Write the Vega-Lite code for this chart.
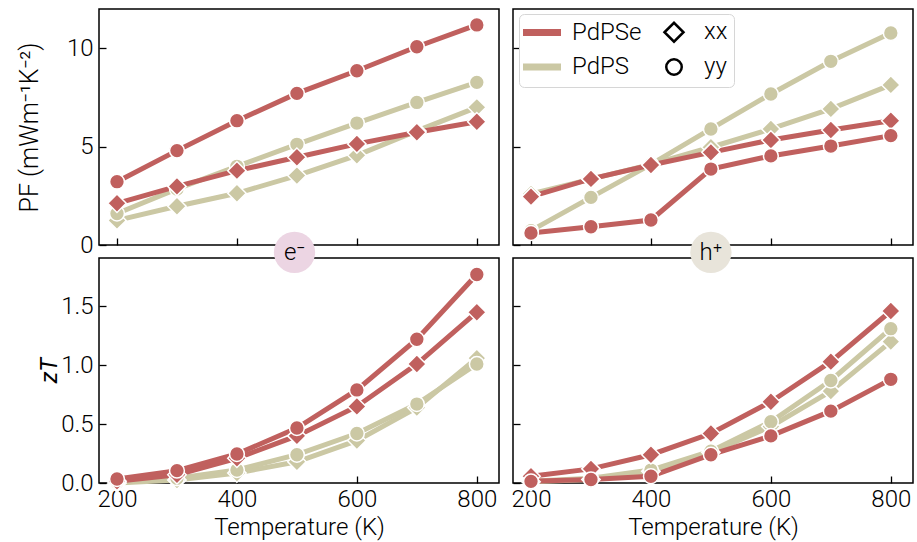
{
  "$schema": "https://vega.github.io/schema/vega-lite/v6.json",
  "padding": {"left": 16, "top": 8, "right": 3, "bottom": 2},
  "config": {
    "font": "Roboto",
    "view": {"stroke": "black", "strokeWidth": 1.5},
    "axis": {"domain": false, "grid": false, "tickColor": "black", "tickSize": -7, "tickWidth": 1.3, "labelFontSize": 24, "labelFontWeight": 300, "labelColor": "black", "titleFontSize": 24, "titleColor": "black", "titleFontWeight": 300, "labelFlush": false, "labelOverlap": false, "labelBound": false},
    "axisX": {"labelPadding": 11},
    "axisY": {"labelPadding": 13}
  },
  "datasets": {
    "series": [
      {"panel":"PF_e","material":"PdPS","dir":"xx","T":200,"value":1.25},{"panel":"PF_e","material":"PdPS","dir":"xx","T":300,"value":1.97},{"panel":"PF_e","material":"PdPS","dir":"xx","T":400,"value":2.63},{"panel":"PF_e","material":"PdPS","dir":"xx","T":500,"value":3.53},{"panel":"PF_e","material":"PdPS","dir":"xx","T":600,"value":4.56},{"panel":"PF_e","material":"PdPS","dir":"xx","T":700,"value":5.8},{"panel":"PF_e","material":"PdPS","dir":"xx","T":800,"value":7.0},
      {"panel":"PF_e","material":"PdPS","dir":"yy","T":200,"value":1.6},{"panel":"PF_e","material":"PdPS","dir":"yy","T":300,"value":2.85},{"panel":"PF_e","material":"PdPS","dir":"yy","T":400,"value":4.0},{"panel":"PF_e","material":"PdPS","dir":"yy","T":500,"value":5.12},{"panel":"PF_e","material":"PdPS","dir":"yy","T":600,"value":6.2},{"panel":"PF_e","material":"PdPS","dir":"yy","T":700,"value":7.25},{"panel":"PF_e","material":"PdPS","dir":"yy","T":800,"value":8.27},
      {"panel":"PF_e","material":"PdPSe","dir":"xx","T":200,"value":2.12},{"panel":"PF_e","material":"PdPSe","dir":"xx","T":300,"value":2.98},{"panel":"PF_e","material":"PdPSe","dir":"xx","T":400,"value":3.78},{"panel":"PF_e","material":"PdPSe","dir":"xx","T":500,"value":4.46},{"panel":"PF_e","material":"PdPSe","dir":"xx","T":600,"value":5.14},{"panel":"PF_e","material":"PdPSe","dir":"xx","T":700,"value":5.73},{"panel":"PF_e","material":"PdPSe","dir":"xx","T":800,"value":6.27},
      {"panel":"PF_e","material":"PdPSe","dir":"yy","T":200,"value":3.22},{"panel":"PF_e","material":"PdPSe","dir":"yy","T":300,"value":4.8},{"panel":"PF_e","material":"PdPSe","dir":"yy","T":400,"value":6.32},{"panel":"PF_e","material":"PdPSe","dir":"yy","T":500,"value":7.71},{"panel":"PF_e","material":"PdPSe","dir":"yy","T":600,"value":8.86},{"panel":"PF_e","material":"PdPSe","dir":"yy","T":700,"value":10.08},{"panel":"PF_e","material":"PdPSe","dir":"yy","T":800,"value":11.19},
      {"panel":"PF_h","material":"PdPS","dir":"xx","T":200,"value":2.6},{"panel":"PF_h","material":"PdPS","dir":"xx","T":300,"value":3.35},{"panel":"PF_h","material":"PdPS","dir":"xx","T":400,"value":4.1},{"panel":"PF_h","material":"PdPS","dir":"xx","T":500,"value":4.97},{"panel":"PF_h","material":"PdPS","dir":"xx","T":600,"value":5.9},{"panel":"PF_h","material":"PdPS","dir":"xx","T":700,"value":6.92},{"panel":"PF_h","material":"PdPS","dir":"xx","T":800,"value":8.14},
      {"panel":"PF_h","material":"PdPS","dir":"yy","T":200,"value":0.73},{"panel":"PF_h","material":"PdPS","dir":"yy","T":300,"value":2.42},{"panel":"PF_h","material":"PdPS","dir":"yy","T":400,"value":4.1},{"panel":"PF_h","material":"PdPS","dir":"yy","T":500,"value":5.9},{"panel":"PF_h","material":"PdPS","dir":"yy","T":600,"value":7.68},{"panel":"PF_h","material":"PdPS","dir":"yy","T":700,"value":9.34},{"panel":"PF_h","material":"PdPS","dir":"yy","T":800,"value":10.78},
      {"panel":"PF_h","material":"PdPSe","dir":"xx","T":200,"value":2.46},{"panel":"PF_h","material":"PdPSe","dir":"xx","T":300,"value":3.36},{"panel":"PF_h","material":"PdPSe","dir":"xx","T":400,"value":4.07},{"panel":"PF_h","material":"PdPSe","dir":"xx","T":500,"value":4.71},{"panel":"PF_h","material":"PdPSe","dir":"xx","T":600,"value":5.34},{"panel":"PF_h","material":"PdPSe","dir":"xx","T":700,"value":5.85},{"panel":"PF_h","material":"PdPSe","dir":"xx","T":800,"value":6.32},
      {"panel":"PF_h","material":"PdPSe","dir":"yy","T":200,"value":0.61},{"panel":"PF_h","material":"PdPSe","dir":"yy","T":300,"value":0.93},{"panel":"PF_h","material":"PdPSe","dir":"yy","T":400,"value":1.27},{"panel":"PF_h","material":"PdPSe","dir":"yy","T":500,"value":3.86},{"panel":"PF_h","material":"PdPSe","dir":"yy","T":600,"value":4.53},{"panel":"PF_h","material":"PdPSe","dir":"yy","T":700,"value":5.03},{"panel":"PF_h","material":"PdPSe","dir":"yy","T":800,"value":5.56},
      {"panel":"zT_e","material":"PdPS","dir":"xx","T":200,"value":0.0},{"panel":"zT_e","material":"PdPS","dir":"xx","T":300,"value":0.025},{"panel":"zT_e","material":"PdPS","dir":"xx","T":400,"value":0.085},{"panel":"zT_e","material":"PdPS","dir":"xx","T":500,"value":0.18},{"panel":"zT_e","material":"PdPS","dir":"xx","T":600,"value":0.36},{"panel":"zT_e","material":"PdPS","dir":"xx","T":700,"value":0.64},{"panel":"zT_e","material":"PdPS","dir":"xx","T":800,"value":1.06},
      {"panel":"zT_e","material":"PdPS","dir":"yy","T":200,"value":0.005},{"panel":"zT_e","material":"PdPS","dir":"yy","T":300,"value":0.04},{"panel":"zT_e","material":"PdPS","dir":"yy","T":400,"value":0.11},{"panel":"zT_e","material":"PdPS","dir":"yy","T":500,"value":0.24},{"panel":"zT_e","material":"PdPS","dir":"yy","T":600,"value":0.42},{"panel":"zT_e","material":"PdPS","dir":"yy","T":700,"value":0.67},{"panel":"zT_e","material":"PdPS","dir":"yy","T":800,"value":1.01},
      {"panel":"zT_e","material":"PdPSe","dir":"xx","T":200,"value":0.014},{"panel":"zT_e","material":"PdPSe","dir":"xx","T":300,"value":0.07},{"panel":"zT_e","material":"PdPSe","dir":"xx","T":400,"value":0.21},{"panel":"zT_e","material":"PdPSe","dir":"xx","T":500,"value":0.4},{"panel":"zT_e","material":"PdPSe","dir":"xx","T":600,"value":0.65},{"panel":"zT_e","material":"PdPSe","dir":"xx","T":700,"value":1.01},{"panel":"zT_e","material":"PdPSe","dir":"xx","T":800,"value":1.45},
      {"panel":"zT_e","material":"PdPSe","dir":"yy","T":200,"value":0.034},{"panel":"zT_e","material":"PdPSe","dir":"yy","T":300,"value":0.105},{"panel":"zT_e","material":"PdPSe","dir":"yy","T":400,"value":0.246},{"panel":"zT_e","material":"PdPSe","dir":"yy","T":500,"value":0.467},{"panel":"zT_e","material":"PdPSe","dir":"yy","T":600,"value":0.79},{"panel":"zT_e","material":"PdPSe","dir":"yy","T":700,"value":1.22},{"panel":"zT_e","material":"PdPSe","dir":"yy","T":800,"value":1.77},
      {"panel":"zT_h","material":"PdPS","dir":"xx","T":200,"value":0.01},{"panel":"zT_h","material":"PdPS","dir":"xx","T":300,"value":0.03},{"panel":"zT_h","material":"PdPS","dir":"xx","T":400,"value":0.1},{"panel":"zT_h","material":"PdPS","dir":"xx","T":500,"value":0.26},{"panel":"zT_h","material":"PdPS","dir":"xx","T":600,"value":0.48},{"panel":"zT_h","material":"PdPS","dir":"xx","T":700,"value":0.78},{"panel":"zT_h","material":"PdPS","dir":"xx","T":800,"value":1.2},
      {"panel":"zT_h","material":"PdPS","dir":"yy","T":200,"value":0.014},{"panel":"zT_h","material":"PdPS","dir":"yy","T":300,"value":0.04},{"panel":"zT_h","material":"PdPS","dir":"yy","T":400,"value":0.11},{"panel":"zT_h","material":"PdPS","dir":"yy","T":500,"value":0.27},{"panel":"zT_h","material":"PdPS","dir":"yy","T":600,"value":0.52},{"panel":"zT_h","material":"PdPS","dir":"yy","T":700,"value":0.87},{"panel":"zT_h","material":"PdPS","dir":"yy","T":800,"value":1.31},
      {"panel":"zT_h","material":"PdPSe","dir":"xx","T":200,"value":0.057},{"panel":"zT_h","material":"PdPSe","dir":"xx","T":300,"value":0.12},{"panel":"zT_h","material":"PdPSe","dir":"xx","T":400,"value":0.24},{"panel":"zT_h","material":"PdPSe","dir":"xx","T":500,"value":0.42},{"panel":"zT_h","material":"PdPSe","dir":"xx","T":600,"value":0.69},{"panel":"zT_h","material":"PdPSe","dir":"xx","T":700,"value":1.03},{"panel":"zT_h","material":"PdPSe","dir":"xx","T":800,"value":1.46},
      {"panel":"zT_h","material":"PdPSe","dir":"yy","T":200,"value":0.014},{"panel":"zT_h","material":"PdPSe","dir":"yy","T":300,"value":0.03},{"panel":"zT_h","material":"PdPSe","dir":"yy","T":400,"value":0.057},{"panel":"zT_h","material":"PdPSe","dir":"yy","T":500,"value":0.24},{"panel":"zT_h","material":"PdPSe","dir":"yy","T":600,"value":0.4},{"panel":"zT_h","material":"PdPSe","dir":"yy","T":700,"value":0.61},{"panel":"zT_h","material":"PdPSe","dir":"yy","T":800,"value":0.88}
    ],
    "labels": [
      {"panel":"zT_e","T":496,"value":1.958,"text":"e⁻","bg":"#ecd5e3"},
      {"panel":"zT_h","T":500,"value":1.958,"text":"h⁺","bg":"#e8e4da"}
    ]
  },
  "resolve": {"scale": {"color": "independent", "shape": "independent", "size": "independent"}},
  "bounds": "flush",
  "columns": 2,
  "spacing": {"row": 13, "column": 14},
  "concat": [
    {
      "width": 400, "height": 236,
      "data": {"name": "series"},
      "transform": [{"filter": "datum.panel == 'PF_e'"}],
      "encoding": {
        "x": {"field": "T", "type": "quantitative", "scale": {"domain": [170, 837], "nice": false, "zero": false}, "axis": {"values": [200, 400, 600, 800], "labels": false, "title": null}},
        "y": {"field": "value", "type": "quantitative", "scale": {"domain": [0, 12], "nice": false}, "axis": {"values": [0, 5, 10], "format": "d", "title": "PF (mWm⁻¹K⁻²)", "titleFontSize": 25, "titleX": -57, "titleY": 118}},
        "color": {"field": "material", "type": "nominal", "scale": {"domain": ["PdPSe", "PdPS"], "range": ["#c0605e", "#cbc8a4"]}, "legend": null}
      },
      "layer": [
        {"mark": {"type": "line", "strokeWidth": 5}, "encoding": {"detail": {"field": "dir"}}},
        {"mark": {"type": "point", "filled": true, "opacity": 1, "stroke": "white", "strokeWidth": 1.5},
         "encoding": {"shape": {"field": "dir", "type": "nominal", "scale": {"domain": ["xx", "yy"], "range": ["diamond", "circle"]}, "legend": null},
                      "size": {"field": "dir", "type": "nominal", "scale": {"domain": ["xx", "yy"], "range": [340, 220]}, "legend": null}}}
      ]
    },
    {
      "width": 400, "height": 236,
      "data": {"name": "series"},
      "transform": [{"filter": "datum.panel == 'PF_h'"}],
      "encoding": {
        "x": {"field": "T", "type": "quantitative", "scale": {"domain": [170, 837], "nice": false, "zero": false}, "axis": {"values": [200, 400, 600, 800], "labels": false, "title": null}},
        "y": {"field": "value", "type": "quantitative", "scale": {"domain": [0, 12], "nice": false}, "axis": {"values": [0, 5, 10], "labels": false, "title": null}},
        "color": {"field": "material", "type": "nominal", "scale": {"domain": ["PdPSe", "xx", "PdPS", "yy"], "range": ["#c0605e", "#000000", "#cbc8a4", "#000000"]},
          "legend": {
            "orient": "none", "legendX": 6, "legendY": 5, "title": null, "columns": 2, "direction": "horizontal",
            "values": ["PdPSe", "xx", "PdPS", "yy"],
            "strokeColor": "#d6d6d6", "fillColor": "white", "cornerRadius": 5, "padding": 6,
            "labelFontSize": 24, "labelFontWeight": 300, "labelColor": "black", "labelFont": "Roboto",
            "symbolSize": 361, "symbolOffset": 5, "labelOffset": 18, "rowPadding": 6, "columnPadding": 15,
            "symbolFillColor": "transparent",
            "encode": {"symbols": {"update": {
              "shape": {"signal": "datum.value == 'xx' ? 'diamond' : datum.value == 'yy' ? 'circle' : 'M-2,0H2'"},
              "stroke": {"signal": "datum.value == 'PdPSe' ? '#c0605e' : datum.value == 'PdPS' ? '#cbc8a4' : 'black'"},
              "strokeWidth": {"signal": "datum.value == 'xx' || datum.value == 'yy' ? 2.5 : 7"},
              "size": {"signal": "datum.value == 'yy' ? 240 : 361"},
              "fill": {"signal": "'transparent'"},
              "fillOpacity": {"value": 0},
              "strokeOpacity": {"value": 1},
              "opacity": {"value": 1}
            }}}
          }}
      },
      "layer": [
        {"mark": {"type": "line", "strokeWidth": 5}, "encoding": {"detail": {"field": "dir"}}},
        {"mark": {"type": "point", "filled": true, "opacity": 1, "stroke": "white", "strokeWidth": 1.5},
         "encoding": {"shape": {"field": "dir", "type": "nominal", "scale": {"domain": ["xx", "yy"], "range": ["diamond", "circle"]}, "legend": null},
                      "size": {"field": "dir", "type": "nominal", "scale": {"domain": ["xx", "yy"], "range": [340, 220]}, "legend": null}}}
      ]
    },
    {
      "width": 400, "height": 225,
      "layer": [
        {
          "data": {"name": "series"},
          "transform": [{"filter": "datum.panel == 'zT_e'"}],
          "encoding": {
            "x": {"field": "T", "type": "quantitative", "scale": {"domain": [170, 837], "nice": false, "zero": false}, "axis": {"values": [200, 400, 600, 800], "title": "Temperature (K)", "titlePadding": 4}},
            "y": {"field": "value", "type": "quantitative", "scale": {"domain": [0, 1.91], "nice": false}, "axis": {"values": [0, 0.5, 1, 1.5], "format": ".1f", "title": "zT", "titleFontStyle": "italic", "titleFontWeight": 400, "titleX": -38, "titleY": 112}},
            "color": {"field": "material", "type": "nominal", "scale": {"domain": ["PdPSe", "PdPS"], "range": ["#c0605e", "#cbc8a4"]}, "legend": null}
          },
          "layer": [
            {"mark": {"type": "line", "strokeWidth": 5}, "encoding": {"detail": {"field": "dir"}}},
            {"mark": {"type": "point", "filled": true, "opacity": 1, "stroke": "white", "strokeWidth": 1.5},
             "encoding": {"shape": {"field": "dir", "type": "nominal", "scale": {"domain": ["xx", "yy"], "range": ["diamond", "circle"]}, "legend": null},
                          "size": {"field": "dir", "type": "nominal", "scale": {"domain": ["xx", "yy"], "range": [340, 220]}, "legend": null}}}
          ]
        },
        {
          "data": {"name": "labels"},
          "transform": [{"filter": "datum.panel == 'zT_e'"}],
          "encoding": {"x": {"field": "T", "type": "quantitative"}, "y": {"field": "value", "type": "quantitative"}},
          "layer": [
            {"mark": {"type": "point", "filled": true, "opacity": 1, "size": 1700, "clip": false}, "encoding": {"fill": {"field": "bg", "type": "nominal", "scale": null}}},
            {"mark": {"type": "text", "fontSize": 24, "fontWeight": 300, "color": "black", "baseline": "middle", "align": "center", "clip": false, "dy": 1}, "encoding": {"text": {"field": "text"}}}
          ]
        }
      ]
    },
    {
      "width": 400, "height": 225,
      "layer": [
        {
          "data": {"name": "series"},
          "transform": [{"filter": "datum.panel == 'zT_h'"}],
          "encoding": {
            "x": {"field": "T", "type": "quantitative", "scale": {"domain": [170, 837], "nice": false, "zero": false}, "axis": {"values": [200, 400, 600, 800], "title": "Temperature (K)", "titlePadding": 4}},
            "y": {"field": "value", "type": "quantitative", "scale": {"domain": [0, 1.91], "nice": false}, "axis": {"values": [0, 0.5, 1, 1.5], "labels": false, "title": null}},
            "color": {"field": "material", "type": "nominal", "scale": {"domain": ["PdPSe", "PdPS"], "range": ["#c0605e", "#cbc8a4"]}, "legend": null}
          },
          "layer": [
            {"mark": {"type": "line", "strokeWidth": 5}, "encoding": {"detail": {"field": "dir"}}},
            {"mark": {"type": "point", "filled": true, "opacity": 1, "stroke": "white", "strokeWidth": 1.5},
             "encoding": {"shape": {"field": "dir", "type": "nominal", "scale": {"domain": ["xx", "yy"], "range": ["diamond", "circle"]}, "legend": null},
                          "size": {"field": "dir", "type": "nominal", "scale": {"domain": ["xx", "yy"], "range": [340, 220]}, "legend": null}}}
          ]
        },
        {
          "data": {"name": "labels"},
          "transform": [{"filter": "datum.panel == 'zT_h'"}],
          "encoding": {"x": {"field": "T", "type": "quantitative"}, "y": {"field": "value", "type": "quantitative"}},
          "layer": [
            {"mark": {"type": "point", "filled": true, "opacity": 1, "size": 1700, "clip": false}, "encoding": {"fill": {"field": "bg", "type": "nominal", "scale": null}}},
            {"mark": {"type": "text", "fontSize": 24, "fontWeight": 300, "color": "black", "baseline": "middle", "align": "center", "clip": false, "dy": 1}, "encoding": {"text": {"field": "text"}}}
          ]
        }
      ]
    }
  ]
}
